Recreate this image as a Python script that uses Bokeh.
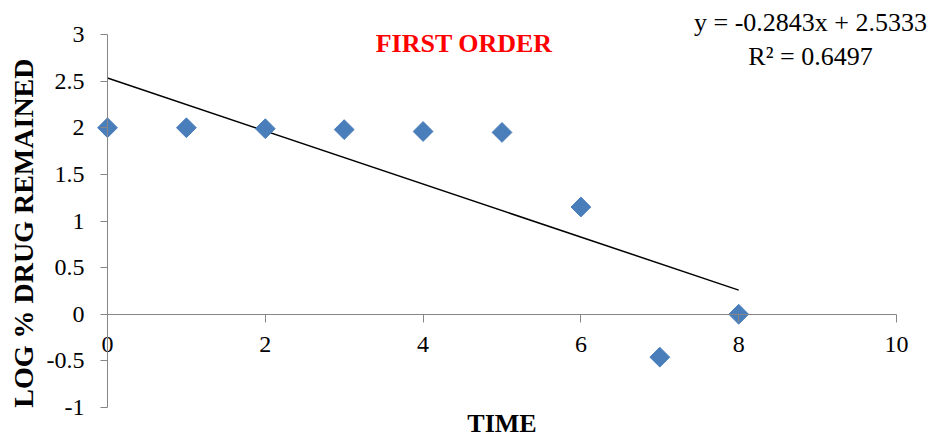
import numpy as np
from bokeh.plotting import figure
from bokeh.models import Range1d, FixedTicker, Label, ColumnDataSource
from bokeh.embed import file_html
from bokeh.resources import INLINE

# ---- data ----
time = [0, 1, 2, 3, 4, 5, 6, 7, 8]
log_drug = [2.00, 2.00, 1.99, 1.98, 1.96, 1.95, 1.15, -0.46, 0.00]
slope = -0.2843
intercept = 2.5333
r2 = 0.6497
x_ticks = [0, 2, 4, 6, 8, 10]
y_ticks = [-1, -0.5, 0, 0.5, 1, 1.5, 2, 2.5, 3]
y_tick_labels = ["-1", "-0.5", "0", "0.5", "1", "1.5", "2", "2.5", "3"]
title_text = "FIRST ORDER"
x_title = "TIME"
y_title = "LOG % DRUG REMAINED"

SERIF = "Liberation Serif"
AXIS_COLOR = "#868686"

# The frame covers the whole canvas; axes cross inside it.
W, H = 933, 438
px_x = 78.9      # pixels per x unit
px_y = 93.25     # pixels per y unit
x0_px, y3_px = 107, 34
x_start = -x0_px / px_x
x_end = (W - x0_px) / px_x
y_end = 3 + y3_px / px_y
y_start = 3 - (H - y3_px) / px_y

p = figure(width=W, height=H, output_backend="svg", toolbar_location=None,
           x_range=Range1d(x_start, x_end), y_range=Range1d(y_start, y_end),
           min_border_left=0, min_border_right=0,
           min_border_top=0, min_border_bottom=0)
p.xgrid.visible = False
p.ygrid.visible = False
p.outline_line_color = None
p.background_fill_color = "white"
p.border_fill_color = "white"

# x axis crossing at y = 0
p.xaxis.fixed_location = 0
p.xaxis.bounds = (0, 10)
p.xaxis.ticker = FixedTicker(ticks=x_ticks)
p.xaxis.axis_line_color = AXIS_COLOR
p.xaxis.major_tick_line_color = AXIS_COLOR
p.xaxis.major_tick_out = 8
p.xaxis.major_tick_in = 0
p.xaxis.minor_tick_line_color = None
p.xaxis.major_label_text_font = SERIF
p.xaxis.major_label_text_font_size = "24px"
p.xaxis.major_label_text_color = "black"
p.xaxis.major_label_standoff = 15

# y axis at x = 0
p.yaxis.fixed_location = 0
p.yaxis.bounds = (-1, 3)
p.yaxis.ticker = FixedTicker(ticks=y_ticks)
p.yaxis.major_label_overrides = {t: s for t, s in zip(y_ticks, y_tick_labels)}
p.yaxis.axis_line_color = AXIS_COLOR
p.yaxis.major_tick_line_color = AXIS_COLOR
p.yaxis.major_tick_out = 7
p.yaxis.major_tick_in = 0
p.yaxis.minor_tick_line_color = None
p.yaxis.major_label_text_font = SERIF
p.yaxis.major_label_text_font_size = "24px"
p.yaxis.major_label_text_color = "black"
p.yaxis.major_label_standoff = 16

# trendline from the fitted equation, across the data span
tx = np.array([min(time), max(time)], dtype=float)
ty = intercept + slope * tx
p.line(tx, ty, line_color="black", line_width=1.5)

src = ColumnDataSource(dict(x=time, y=log_drug))
p.scatter("x", "y", source=src, marker="square", size=14, angle=np.pi / 4,
          fill_color="#4A7EBB", line_color="#4A7EBB")

p.add_layout(Label(x=4.52, y=2.900, text=title_text, text_font=SERIF,
                   text_font_style="bold", text_font_size="26px",
                   text_color="red", text_align="center",
                   text_baseline="alphabetic"))
p.add_layout(Label(x=8.91, y=3.129, text=f"y = {slope}x + {intercept}",
                   text_font=SERIF, text_font_size="26px", text_color="black",
                   text_align="center", text_baseline="alphabetic"))
p.add_layout(Label(x=8.91, y=2.764, text=f"R\u00b2 = {r2}",
                   text_font=SERIF, text_font_size="26px", text_color="black",
                   text_align="center", text_baseline="alphabetic"))
p.add_layout(Label(x=5, y=-1.172, text=x_title, text_font=SERIF,
                   text_font_style="bold", text_font_size="26px",
                   text_color="black", text_align="center",
                   text_baseline="alphabetic"))
p.add_layout(Label(x=-1.065, y=0.87, text=y_title, angle=np.pi / 2,
                   text_font=SERIF, text_font_style="bold",
                   text_font_size="28px", text_color="black",
                   text_align="center", text_baseline="middle"))

open("out.html", "w").write(file_html(p, INLINE))
